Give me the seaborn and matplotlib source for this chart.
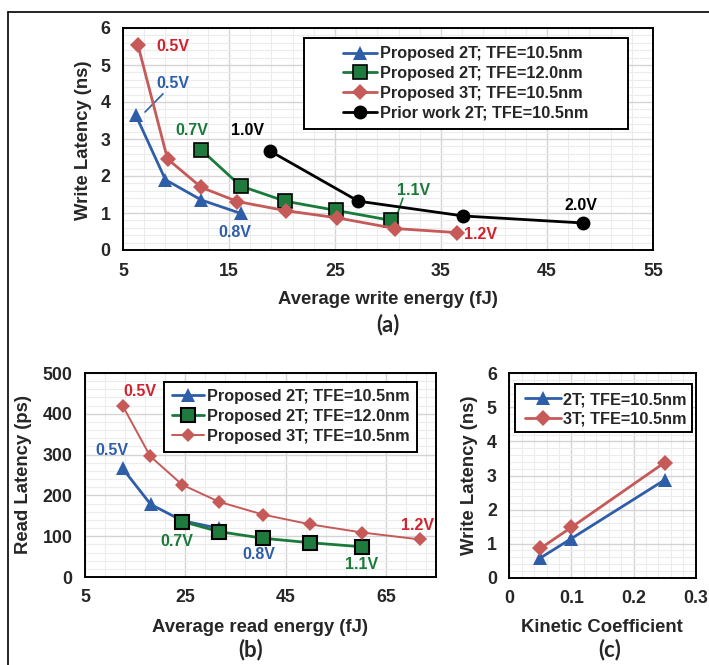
import matplotlib
matplotlib.use("Agg")
import matplotlib.pyplot as plt
import seaborn as sns
from matplotlib.patches import Rectangle
from matplotlib.lines import Line2D
from matplotlib.ticker import MultipleLocator

# ---------------- data ----------------
# (a) write latency vs average write energy
a_2t105_x = [6.2, 9.0, 12.4, 16.1]
a_2t105_y = [3.65, 1.90, 1.35, 0.99]
a_2t120_x = [12.4, 16.1, 20.3, 25.1, 30.3]
a_2t120_y = [2.70, 1.73, 1.32, 1.07, 0.80]
a_3t105_x = [6.4, 9.2, 12.4, 15.8, 20.4, 25.2, 30.7, 36.5]
a_3t105_y = [5.55, 2.46, 1.69, 1.31, 1.06, 0.87, 0.58, 0.47]
a_prior_x = [18.9, 27.2, 37.1, 48.4]
a_prior_y = [2.67, 1.32, 0.92, 0.73]

# (b) read latency vs average read energy
b_2t105_x = [12.5, 18.1, 24.4, 31.8]
b_2t105_y = [266, 178, 138, 119]
b_2t120_x = [24.4, 31.8, 40.5, 49.9, 60.3]
b_2t120_y = [136, 111, 95, 84, 74]
b_3t105_x = [12.5, 18.0, 24.4, 31.8, 40.5, 49.9, 60.3, 71.8]
b_3t105_y = [420, 296, 226, 184, 153, 129, 109, 92]

# (c) write latency vs kinetic coefficient
c_k = [0.05, 0.10, 0.25]
c_2t_y = [0.58, 1.15, 2.87]
c_3t_y = [0.86, 1.48, 3.38]

labels_a = ["Proposed 2T; TFE=10.5nm", "Proposed 2T; TFE=12.0nm",
            "Proposed 3T; TFE=10.5nm", "Prior work 2T; TFE=10.5nm"]
labels_c = ["2T; TFE=10.5nm", "3T; TFE=10.5nm"]

# ---------------- style ----------------
sns.set_style("white")
plt.rcParams["font.family"] = ["Liberation Sans", "DejaVu Sans"]
plt.rcParams["font.weight"] = "bold"
plt.rcParams["axes.labelweight"] = "bold"

BLUE = "#2f5ea9"
GREEN = "#1a7a3a"
GREENF = "#1e7b3d"
RED = "#c55a58"
REDT = "#d0232e"
BLACK = "#000000"

TICK_FS = 12.8
LAB_FS = 13.3
ANN_FS = 11.5
LEG_FS = 11.7
PANEL_FS = 16

W, H = 709, 665
fig = plt.figure(figsize=(W / 100, H / 100), dpi=100)


def fx(px):
    return px / W


def fy(py):
    return 1 - py / H


def make_ax(l, t, r, b):
    return fig.add_axes([fx(l), fy(b), fx(r) - fx(l), fy(t) - fy(b)])


def style_ax(ax, xlim, ylim, xmaj, xmin, xoff, ymaj, ymin):
    ax.set_xlim(*xlim)
    ax.set_ylim(*ylim)
    ax.xaxis.set_major_locator(MultipleLocator(xmaj, offset=xoff))
    ax.xaxis.set_minor_locator(MultipleLocator(xmin, offset=xoff))
    ax.yaxis.set_major_locator(MultipleLocator(ymaj))
    ax.yaxis.set_minor_locator(MultipleLocator(ymin))
    ax.grid(which="major", color="#d4d4d4", lw=1.0)
    ax.grid(which="minor", color="#ececec", lw=0.8)
    ax.set_axisbelow(True)
    for s in ax.spines.values():
        s.set_color("black")
        s.set_linewidth(1.4)
        s.set_visible(True)
    ax.tick_params(which="major", direction="out", length=5, width=1,
                   color="#a6a6a6", labelsize=TICK_FS, pad=4)
    ax.tick_params(which="minor", length=0)
    for lab in ax.get_xticklabels() + ax.get_yticklabels():
        lab.set_fontweight("bold")
    ax.set_xlabel("")
    ax.set_ylabel("")


def draw(ax, x, y, color, marker, ms, lw, label, mfc=None, mec=None, mew=0):
    sns.lineplot(x=x, y=y, ax=ax, color=color, marker=marker, markersize=ms,
                 linewidth=lw, label=label, sort=False,
                 markerfacecolor=mfc if mfc else color,
                 markeredgecolor=mec if mec else color,
                 markeredgewidth=mew, clip_on=False, zorder=3)


def legend_box(ax, box, handle_x, rows_y, hl, fs=LEG_FS, ls=0.3):
    l, t, r, b = box
    ax.add_patch(Rectangle((fx(l), fy(b)), fx(r) - fx(l), fy(t) - fy(b),
                           transform=fig.transFigure, facecolor="white",
                           edgecolor="black", lw=1.4, zorder=5))
    yc = (rows_y[0] + rows_y[-1]) / 2
    leg = ax.legend(loc="center left", bbox_to_anchor=(fx(handle_x), fy(yc)),
                    bbox_transform=fig.transFigure, frameon=False, borderpad=0,
                    borderaxespad=0, handlelength=hl, handletextpad=0.15,
                    labelspacing=ls, prop={"size": fs, "weight": "bold"},
                    numpoints=1)
    leg.set_zorder(6)
    return leg


ann_kw = dict(fontsize=ANN_FS, fontweight="bold", ha="center", va="center")

# ---------------- (a) ----------------
axa = make_ax(123, 28, 653, 250)
draw(axa, a_2t105_x, a_2t105_y, BLUE, "^", 10.5, 2.0, labels_a[0])
draw(axa, a_2t120_x, a_2t120_y, GREEN, "s", 9.5, 2.0, labels_a[1],
     mfc=GREENF, mec="black", mew=1.2)
draw(axa, a_3t105_x, a_3t105_y, RED, "D", 8.0, 2.0, labels_a[2])
draw(axa, a_prior_x, a_prior_y, BLACK, "o", 10, 2.0, labels_a[3])
style_ax(axa, (5, 55), (0, 6), 10, 2, 5, 1, 0.2)
legend_box(axa, (304, 38, 628, 129), 343, [49, 72, 95, 118], 2.1)

axa.text(9.67, 5.51, "0.5V", color=REDT, **ann_kw)
axa.text(9.67, 4.49, "0.5V", color=BLUE, **ann_kw)
axa.plot([7.08, 8.77], [3.73, 4.22], color=BLUE, lw=1.2)
axa.text(11.48, 3.22, "0.7V", color=GREEN, **ann_kw)
axa.text(16.7, 3.22, "1.0V", color=BLACK, **ann_kw)
axa.text(15.55, 0.46, "0.8V", color=BLUE, **ann_kw)
axa.text(32.4, 1.60, "1.1V", color=GREEN, **ann_kw)
axa.plot([30.75, 31.4], [0.86, 1.40], color=GREEN, lw=1.2)
axa.text(48.2, 1.20, "2.0V", color=BLACK, **ann_kw)
axa.text(38.7, 0.42, "1.2V", color=REDT, **ann_kw)

fig.text(fx(388), fy(300), "Average write energy (fJ)", ha="center",
         va="center", fontsize=LAB_FS, fontweight="bold")
fig.text(fx(388), fy(325), "(a)", ha="center", va="center", fontsize=PANEL_FS,
         fontweight="bold", family=["Lato", "DejaVu Sans"])
fig.text(fx(83), fy(140), "Write Latency (ns)", ha="center", va="center",
         rotation=90, fontsize=LAB_FS, fontweight="bold")

# ---------------- (b) ----------------
axb = make_ax(85, 373, 436, 577)
draw(axb, b_2t105_x, b_2t105_y, BLUE, "^", 10.5, 2.0, labels_a[0])
draw(axb, b_2t120_x, b_2t120_y, GREEN, "s", 9.5, 2.0, labels_a[1],
     mfc=GREENF, mec="black", mew=1.5)
draw(axb, b_3t105_x, b_3t105_y, RED, "D", 7.0, 1.4, labels_a[2])
style_ax(axb, (5, 75), (0, 500), 20, 4, 5, 100, 20)
legend_box(axb, (164, 381.7, 417, 451.7), 171.7, [393, 417, 440], 2.0)

axb.text(15.9, 454, "0.5V", color=REDT, **ann_kw)
axb.text(10.3, 309, "0.5V", color=BLUE, **ann_kw)
axb.text(23.3, 86.5, "0.7V", color=GREEN, **ann_kw)
axb.text(39.7, 54, "0.8V", color=BLUE, **ann_kw)
axb.text(60.2, 31, "1.1V", color=GREEN, **ann_kw)
axb.text(71.3, 127, "1.2V", color=REDT, **ann_kw)

fig.text(fx(260.5), fy(627), "Average read energy (fJ)", ha="center",
         va="center", fontsize=LAB_FS, fontweight="bold")
fig.text(fx(251), fy(650), "(b)", ha="center", va="center", fontsize=PANEL_FS,
         fontweight="bold", family=["Lato", "DejaVu Sans"])
fig.text(fx(24), fy(475), "Read Latency (ps)", ha="center", va="center",
         rotation=90, fontsize=LAB_FS, fontweight="bold")

# ---------------- (c) ----------------
axc = make_ax(509.3, 373.3, 695.7, 577.7)
draw(axc, c_k, c_2t_y, BLUE, "^", 10.5, 2.0, labels_c[0])
draw(axc, c_k, c_3t_y, RED, "D", 8.0, 2.0, labels_c[1])
style_ax(axc, (0, 0.3), (0, 6), 0.1, 0.02, 0, 1, 0.2)
axc.set_xticks([0, 0.1, 0.2, 0.3])
axc.set_xticklabels(["0", "0.1", "0.2", "0.3"], fontweight="bold")
legend_box(axc, (515, 384, 692, 432), 525, [398, 421], 2.2)

fig.text(fx(602), fy(627), "Kinetic Coefficient", ha="center",
         va="center", fontsize=LAB_FS, fontweight="bold")
fig.text(fx(610), fy(650), "(c)", ha="center", va="center", fontsize=PANEL_FS,
         fontweight="bold", family=["Lato", "DejaVu Sans"])
fig.text(fx(470), fy(475), "Write Latency (ns)", ha="center", va="center",
         rotation=90, fontsize=LAB_FS, fontweight="bold")

# outer frame lines
fig.add_artist(Line2D([fx(8), fx(8)], [0, fy(12)], transform=fig.transFigure,
                      color="black", lw=1.2))
fig.add_artist(Line2D([fx(8), 1], [fy(12), fy(12)], transform=fig.transFigure,
                      color="black", lw=1.2))

fig.savefig("out.png", dpi=100, facecolor="white")
